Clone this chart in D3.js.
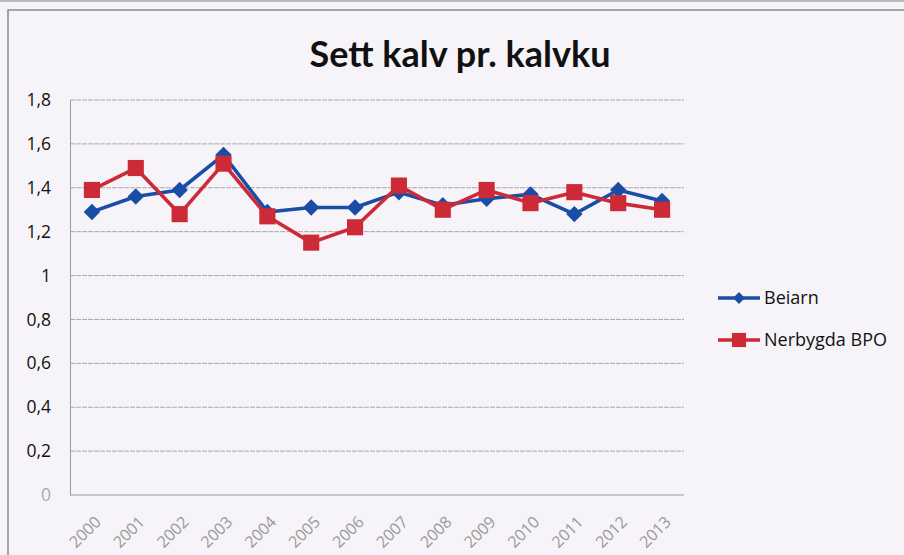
<!DOCTYPE html>
<html><head><meta charset="utf-8">
<script src="https://cdn.jsdelivr.net/npm/d3@7"></script>
<style>html,body{margin:0;padding:0;background:#f6f4f8;}svg{display:block;}</style>
</head><body><svg id="c" width="904" height="555"></svg>
<script>
const years = ["2000","2001","2002","2003","2004","2005","2006","2007","2008","2009","2010","2011","2012","2013"];
const beiarn = [1.29,1.36,1.39,1.55,1.29,1.31,1.31,1.38,1.32,1.35,1.37,1.28,1.39,1.34];
const nerbygda = [1.39,1.49,1.28,1.51,1.27,1.15,1.22,1.41,1.30,1.39,1.33,1.38,1.33,1.30];
const yTicks = [0,0.2,0.4,0.6,0.8,1,1.2,1.4,1.6,1.8];
const seriesNames = ["Beiarn","Nerbygda BPO"];

const svg = d3.select("#c");
svg.append("rect").attr("x",0).attr("y",0).attr("width",904).attr("height",555).attr("fill","#f6f4f8");
svg.append("line").attr("x1",0).attr("x2",904).attr("y1",1).attr("y2",1).attr("stroke","#bbb").attr("stroke-width",2);
svg.append("rect").attr("x",8).attr("y",10).attr("width",920).attr("height",560)
  .attr("fill","none").attr("stroke","#8a8a8a").attr("stroke-width",1.5);

const x = d3.scaleBand().domain(years).range([70,684]);
const y = d3.scaleLinear().domain([0,1.8]).range([495,100]);
const fmt = d => d===0 ? "0" : d3.format(".1f")(d).replace(".",",").replace(/,0$/,"");

svg.append("text").attr("x",460).attr("y",67).attr("text-anchor","middle")
  .attr("font-family","Lato, 'Open Sans', sans-serif").attr("font-weight","bold")
  .attr("font-size",36).attr("fill","#111").text("Sett kalv pr. kalvku");

// gridlines
svg.append("g").selectAll("line").data(yTicks).join("line")
  .attr("x1",70).attr("x2",684).attr("y1",d=>y(d)).attr("y2",d=>y(d))
  .attr("stroke",d=>d===0?"#9a9a9a":"#a8a8a8").attr("stroke-width",1)
  .attr("stroke-dasharray",d=>d===0?null:"5,1");

// y axis
const ya = svg.append("g").attr("transform","translate(70,0)")
  .call(d3.axisLeft(y).tickValues(yTicks).tickFormat(fmt).tickSize(0).tickPadding(19));
ya.select(".domain").attr("stroke","#9a9a9a");
ya.selectAll("text").attr("font-family","'Open Sans', sans-serif").attr("font-size",17.5)
  .attr("fill",d=>d===0?"#aaa":"#111");

// x axis
const xa = svg.append("g").attr("transform","translate(0,495)")
  .call(d3.axisBottom(x).tickSize(0));
xa.select(".domain").remove();
xa.selectAll("text").attr("font-family","'Open Sans', sans-serif").attr("font-size",16)
  .attr("fill","#999").attr("text-anchor","end").attr("x",0).attr("y",0).attr("dy","0.35em")
  .attr("transform","translate(6,24) rotate(-45)");

const cx = d => x(d)+x.bandwidth()/2;
const line = d3.line().x((d,i)=>cx(years[i])).y(d=>y(d));
const colors = ["#1a4ea6","#cc2a36"];

function drawSeries(vals, color, isDiamond){
  svg.append("path").datum(vals).attr("d",line).attr("fill","none")
    .attr("stroke",color).attr("stroke-width",3.6).attr("stroke-linejoin","round");
  const sym = d3.symbol().type(d3.symbolSquare).size(isDiamond?135:260);
  svg.append("g").selectAll("path").data(vals).join("path")
    .attr("d",sym).attr("fill",color)
    .attr("transform",(d,i)=>`translate(${cx(years[i])},${y(d)})${isDiamond?" rotate(45)":""}`);
}
drawSeries(beiarn, colors[0], true);
drawSeries(nerbygda, colors[1], false);

// legend
const lg = svg.append("g");
seriesNames.forEach((n,i)=>{
  const ly = 298 + i*42;
  lg.append("line").attr("x1",718).attr("x2",760).attr("y1",ly).attr("y2",ly)
    .attr("stroke",colors[i]).attr("stroke-width",3.4);
  lg.append("path").attr("d",d3.symbol().type(d3.symbolSquare).size(i===0?70:200)())
    .attr("fill",colors[i]).attr("transform",`translate(739,${ly})${i===0?" rotate(45)":""}`);
  lg.append("text").attr("x",764).attr("y",ly+6).attr("font-family","'Open Sans', sans-serif")
    .attr("font-size",18).attr("fill","#111").text(n);
});
</script></body></html>
